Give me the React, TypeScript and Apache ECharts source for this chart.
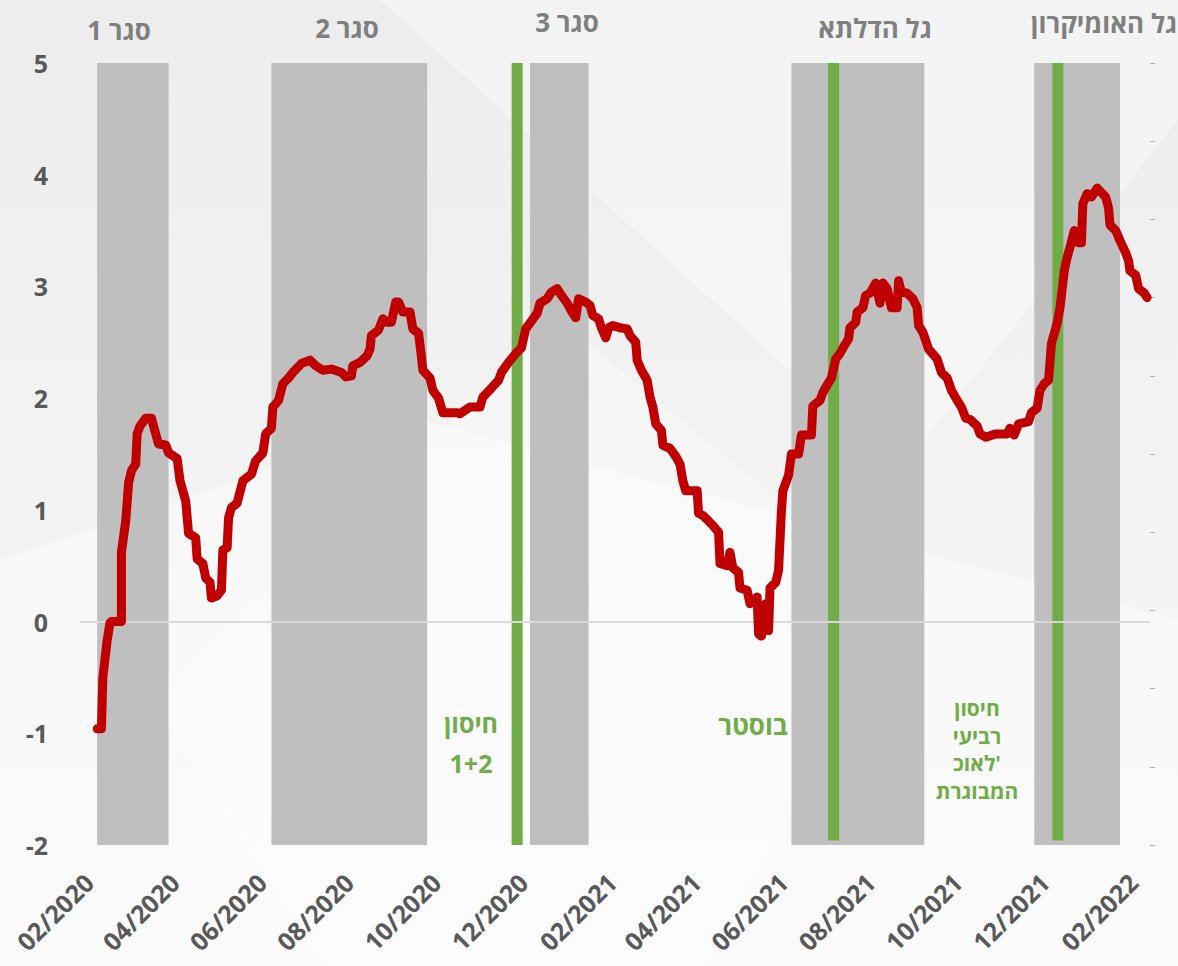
import React, { useEffect, useRef } from "react";
import * as echarts from "echarts";

// days since 2020-02-01 and the plotted values (red line)
const lineDays = [
  12, 15, 16, 19, 21, 22, 29, 29, 32, 34, 36, 39, 40, 42, 46, 50, 53, 55, 60, 62,
  68, 70, 74, 76, 81, 82, 86, 88, 91, 92, 96, 99, 100, 103, 104, 106, 110, 112, 114, 120,
  123, 128, 130, 134, 135, 139, 142, 146, 149, 155, 161, 165, 170, 176, 183, 186, 190, 191, 196, 201,
  203, 204, 209, 212, 215, 218, 221, 223, 226, 231, 233, 237, 239, 240, 245, 247, 251, 254, 264, 266,
  273, 280, 282, 288, 293, 295, 300, 305, 309, 312, 316, 320, 322, 327, 330, 334, 337, 341, 344, 347,
  349, 354, 357, 359, 363, 365, 368, 370, 373, 378, 383, 385, 389, 390, 393, 397, 399, 401, 403, 407,
  408, 413, 417, 420, 422, 424, 432, 433, 436, 440, 443, 447, 448, 453, 455, 457, 461, 462, 467, 469,
  474, 475, 477, 480, 482, 483, 487, 489, 491, 492, 496, 498, 503, 505, 512, 513, 518, 520, 524, 526,
  529, 532, 535, 538, 539, 543, 544, 548, 550, 553, 557, 560, 562, 565, 568, 572, 573, 575, 579, 583,
  586, 587, 590, 594, 600, 603, 607, 610, 614, 617, 620, 623, 628, 630, 634, 641, 649, 651, 654, 657,
  664, 666, 670, 672, 675, 678, 680, 684, 686, 689, 691, 693, 696, 699, 701, 702, 705, 708, 712, 715,
  718, 720, 721, 725, 728, 732, 734, 735, 739, 741, 745, 747,
];
const lineValues = [
  -0.96, -0.96, -0.5, -0.17, -0.01, 0.0, 0.0, 0.62, 0.9, 1.24, 1.35, 1.41, 1.68, 1.75, 1.82, 1.82, 1.68, 1.59, 1.58, 1.51,
  1.46, 1.26, 1.08, 0.79, 0.75, 0.56, 0.52, 0.39, 0.35, 0.21, 0.23, 0.28, 0.64, 0.66, 0.93, 1.02, 1.06, 1.16, 1.26, 1.32,
  1.44, 1.51, 1.68, 1.73, 1.92, 1.98, 2.13, 2.18, 2.23, 2.31, 2.34, 2.29, 2.25, 2.26, 2.23, 2.19, 2.2, 2.29, 2.32, 2.38,
  2.44, 2.56, 2.61, 2.71, 2.68, 2.68, 2.86, 2.86, 2.77, 2.77, 2.62, 2.58, 2.37, 2.25, 2.18, 2.07, 2.0, 1.87, 1.87, 1.86,
  1.92, 1.92, 2.01, 2.09, 2.16, 2.23, 2.32, 2.4, 2.45, 2.62, 2.69, 2.76, 2.85, 2.89, 2.95, 2.98, 2.92, 2.85, 2.78, 2.72,
  2.89, 2.86, 2.83, 2.74, 2.71, 2.63, 2.54, 2.63, 2.65, 2.63, 2.62, 2.56, 2.5, 2.34, 2.25, 2.16, 2.01, 1.92, 1.77, 1.71,
  1.58, 1.55, 1.48, 1.41, 1.26, 1.17, 1.17, 0.97, 0.95, 0.9, 0.86, 0.8, 0.52, 0.5, 0.62, 0.48, 0.44, 0.3, 0.28, 0.16,
  0.22, -0.11, -0.13, 0.16, -0.08, 0.3, 0.35, 0.46, 0.99, 1.17, 1.31, 1.5, 1.5, 1.67, 1.67, 1.93, 1.98, 2.05, 2.14, 2.18,
  2.35, 2.4, 2.47, 2.53, 2.63, 2.68, 2.77, 2.81, 2.92, 2.94, 3.03, 2.85, 3.03, 2.98, 2.81, 2.81, 3.05, 2.95, 2.94, 2.89,
  2.81, 2.65, 2.59, 2.44, 2.35, 2.23, 2.18, 2.07, 1.98, 1.92, 1.82, 1.81, 1.75, 1.68, 1.65, 1.68, 1.68, 1.73, 1.67, 1.77,
  1.79, 1.87, 1.91, 2.07, 2.13, 2.16, 2.49, 2.67, 2.81, 3.14, 3.26, 3.35, 3.5, 3.39, 3.39, 3.74, 3.83, 3.8, 3.88, 3.84,
  3.8, 3.7, 3.55, 3.5, 3.41, 3.3, 3.23, 3.14, 3.1, 2.98, 2.94, 2.9,
];

// shaded periods (days since 2020-02-01)
const bandNames = ["סגר 1", "סגר 2", "סגר 3", "גל הדלתא", "גל האומיקרון"];
const bandStart = [12, 134, 315, 498, 668];
const bandEnd = [62, 243, 356, 591, 728];

// vaccination campaign lines (days since 2020-02-01)
const vaccineDays = [306, 527.5, 684.5];
const vaccineBottom = [-2, -1.96, -1.96];

// x tick labels: every second month
const tickYears = [2020, 2020, 2020, 2020, 2020, 2020, 2021, 2021, 2021, 2021, 2021, 2021, 2022];
const tickMonths = [2, 4, 6, 8, 10, 12, 2, 4, 6, 8, 10, 12, 2];

const yTicks = [-2, -1, 0, 1, 2, 3, 4, 5];

const BASE = Date.UTC(2020, 1, 1);
const DAY = 86400000;
const X_MAX_DAY = 749;
const toTime = (d: number) => BASE + d * DAY;

const FONT = "'Open Sans', 'Liberation Sans', 'DejaVu Sans', sans-serif";
const GREEN = "#70ad47";

export default function App() {
  const ref = useRef<HTMLDivElement>(null);

  useEffect(() => {
    if (!ref.current) return;
    const chart = echarts.init(ref.current, undefined, { renderer: "svg" });

    const lineData = lineDays.map((d, i) => [toTime(d), lineValues[i]]);
    const tickValues = tickYears.map((y, i) => Date.UTC(y, tickMonths[i] - 1, 1));

    const vaccineSeries = vaccineDays.map((d, i) => ({
      type: "line",
      data: [
        [toTime(d), 5],
        [toTime(d), vaccineBottom[i]],
      ],
      symbol: "none",
      silent: true,
      lineStyle: { color: GREEN, width: 11, cap: "butt" },
      z: 3,
    }));

    const labelStyle = (color: string, size: number) => ({
      fill: color,
      font: `bold ${size}px ${FONT}`,
      textAlign: "center",
      textVerticalAlign: "middle",
    });

    const topLabelPos = [
      [119, 30],
      [347, 28],
      [567, 22],
      [875, 28],
      [1104, 23],
    ];

    const txt = (text: string, x: number, y: number, color: string, size: number) => ({
      type: "text",
      z: 100,
      silent: true,
      style: { text, x, y, ...labelStyle(color, size) },
    });

    const option: any = {
      animation: false,
      backgroundColor: {
        type: "linear",
        x: 0,
        y: 0,
        x2: 0,
        y2: 1,
        colorStops: [
          { offset: 0, color: "#ededed" },
          { offset: 0.5, color: "#f3f3f3" },
          { offset: 1, color: "#f9f9f9" },
        ],
      },
      grid: { left: 80, right: 28, top: 63, bottom: 121 },
      xAxis: {
        type: "value",
        min: toTime(0),
        max: toTime(X_MAX_DAY),
        axisLine: { show: false },
        axisTick: { show: false },
        splitLine: { show: false },
        axisLabel: {
          customValues: tickValues,
          rotate: 45,
          margin: 24,
          verticalAlign: "top",
          color: "#595959",
          fontSize: 25,
          fontWeight: "bold",
          fontFamily: FONT,
          formatter: (v: number) => {
            const dt = new Date(v);
            const m = dt.getUTCMonth() + 1;
            return (m < 10 ? "0" + m : "" + m) + "/" + dt.getUTCFullYear();
          },
        },
      },
      yAxis: [
        {
          type: "value",
          min: yTicks[0],
          max: yTicks[yTicks.length - 1],
          interval: 1,
          axisLine: { show: false },
          axisTick: { show: false },
          splitLine: { show: false },
          axisLabel: {
            margin: 32,
            color: "#595959",
            fontSize: 25,
            fontWeight: "bold",
            fontFamily: FONT,
          },
        },
        {
          type: "value",
          position: "right",
          min: 0,
          max: 10,
          interval: 1,
          axisLine: { show: false },
          axisLabel: { show: false },
          splitLine: { show: false },
          axisTick: { show: true, length: 5, lineStyle: { color: "#b0b0b0", width: 1 } },
        },
      ],
      graphic: [
        {
          type: "polygon",
          z: -10,
          silent: true,
          shape: { points: [[380, 0], [1178, 0], [1178, 120], [900, 470]] },
          style: { fill: "rgba(255,255,255,0.35)" },
        },
        {
          type: "polygon",
          z: -10,
          silent: true,
          shape: { points: [[0, 560], [420, 420], [1178, 620], [1178, 966], [0, 966]] },
          style: { fill: "rgba(255,255,255,0.4)" },
        },
        {
          type: "polygon",
          z: -10,
          silent: true,
          shape: { points: [[150, 700], [560, 320], [900, 600], [700, 966], [330, 966]] },
          style: { fill: "rgba(255,255,255,0.3)" },
        },
        ...bandNames.map((name, i) => txt(name, topLabelPos[i][0], topLabelPos[i][1], "#7f7f7f", 26)),
        txt("חיסון", 471, 723, GREEN, 25),
        txt("1+2", 471, 763, GREEN, 25),
        txt("בוסטר", 753, 725, GREEN, 26),
        txt("חיסון", 977, 708, GREEN, 21),
        txt("רביעי", 977, 735.5, GREEN, 21),
        txt("לאוכ'", 977, 763, GREEN, 21),
        txt("המבוגרת", 977, 790.5, GREEN, 21),
      ],
      series: [
        {
          type: "line",
          data: [],
          silent: true,
          z: 1,
          markArea: {
            silent: true,
            itemStyle: { color: "#bfbfbf" },
            label: { show: false },
            data: bandStart.map((s, i) => [{ xAxis: toTime(s) }, { xAxis: toTime(bandEnd[i]) }]),
          },
        },
        {
          type: "line",
          data: [],
          silent: true,
          z: 2,
          markLine: {
            silent: true,
            symbol: "none",
            label: { show: false },
            lineStyle: { color: "#d9d9d9", width: 2, type: "solid" },
            data: [{ yAxis: 0 }],
          },
        },
        ...vaccineSeries,
        {
          type: "line",
          data: lineData,
          symbol: "none",
          z: 5,
          lineStyle: { color: "#c00000", width: 9, join: "round", cap: "round" },
        },
      ],
    };

    chart.setOption(option);
    return () => chart.dispose();
  }, []);

  return (
    <div
      ref={ref}
      style={{ position: "absolute", left: 0, top: 0, width: 1178, height: 966 }}
    />
  );
}
